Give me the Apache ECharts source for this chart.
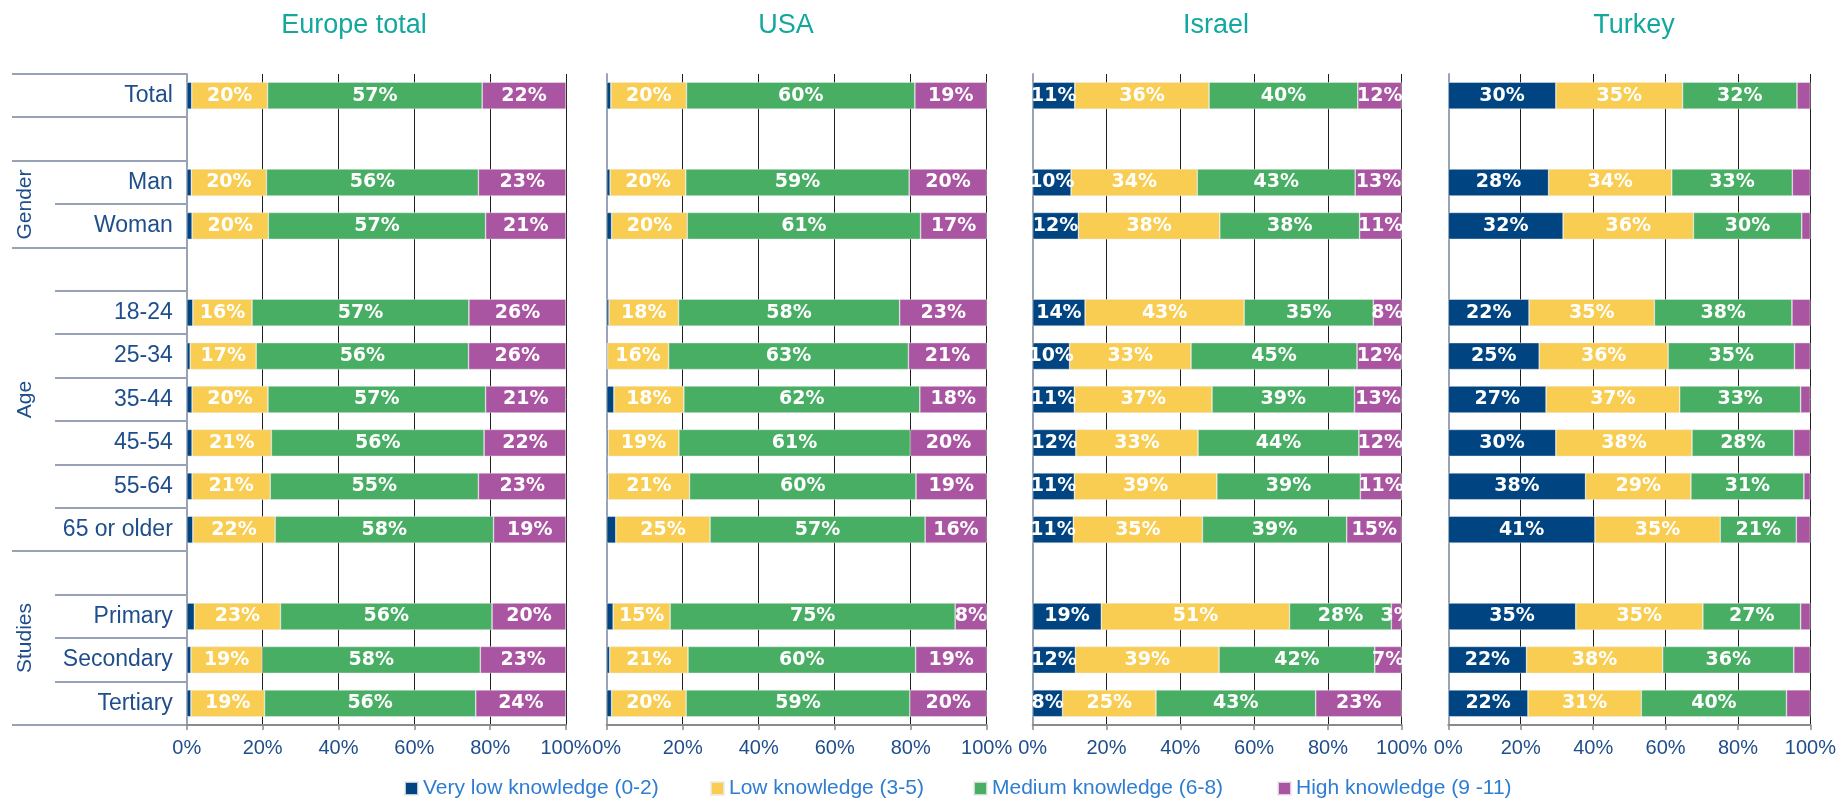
<!DOCTYPE html>
<html><head><meta charset="utf-8">
<script src="https://cdn.jsdelivr.net/npm/echarts@6/dist/echarts.min.js"></script>
<style>html,body{margin:0;padding:0;background:#fff}#c{width:1839px;height:799px}</style>
</head><body><div id="c"></div><script>
// ---- data ----
const categories = ['Total', '', 'Man', 'Woman', ' ', '18-24', '25-34', '35-44', '45-54', '55-64', '65 or older', '  ', 'Primary', 'Secondary', 'Tertiary'];
const countries = ['Europe total', 'USA', 'Israel', 'Turkey'];
const levels = ['Very low knowledge (0-2)', 'Low knowledge (3-5)', 'Medium knowledge (6-8)', 'High knowledge (9 -11)'];
const xTicks = [0, 20, 40, 60, 80, 100];
const groups = ['Gender', 'Age', 'Studies'];

const europeVeryLow = [1.3, null, 1.2, 1.4, null, 1.6, 0.9, 1.4, 1.4, 1.4, 1.6, null, 2.0, 1.1, 1.1];
const europeLow     = [20.0, null, 19.8, 20.1, null, 15.6, 17.4, 20.0, 20.9, 20.6, 21.7, null, 22.7, 18.8, 19.4];
const europeMedium  = [56.6, null, 55.9, 57.3, null, 57.2, 56.0, 57.4, 56.1, 54.9, 57.6, null, 55.8, 57.5, 55.7];
const europeHigh    = [22.1, null, 23.1, 21.2, null, 25.6, 25.7, 21.2, 21.6, 23.1, 19.1, null, 19.5, 22.6, 23.8];

const usaVeryLow = [1.1, null, 0.9, 1.3, null, 0.6, 0.2, 1.9, 0.4, 0.4, 2.4, null, 1.7, 0.8, 1.3];
const usaLow     = [19.9, null, 19.9, 19.9, null, 18.3, 16.1, 18.4, 18.6, 21.4, 24.8, null, 15.0, 20.6, 19.6];
const usaMedium  = [60.1, null, 58.8, 61.4, null, 58.2, 63.1, 62.1, 60.9, 59.6, 56.6, null, 75.0, 59.9, 58.9];
const usaHigh    = [18.9, null, 20.4, 17.4, null, 22.9, 20.6, 17.6, 20.1, 18.6, 16.2, null, 8.3, 18.7, 20.2];

const israelVeryLow = [11.4, null, 10.4, 12.4, null, 14.2, 10.0, 11.3, 11.7, 11.3, 11.0, null, 18.6, 11.6, 8.1];
const israelLow     = [36.4, null, 34.2, 38.3, null, 43.1, 32.9, 37.3, 33.1, 38.6, 35.0, null, 51.0, 38.9, 25.3];
const israelMedium  = [40.3, null, 42.8, 37.9, null, 35.0, 45.0, 38.6, 43.6, 38.9, 39.1, null, 27.6, 42.2, 43.3];
const israelHigh    = [11.9, null, 12.6, 11.4, null, 7.7, 12.1, 12.8, 11.6, 11.2, 14.9, null, 2.8, 7.3, 23.3];

const turkeyVeryLow = [29.7, null, 27.7, 31.7, null, 22.3, 25.1, 27.0, 29.7, 37.9, 40.5, null, 35.2, 21.6, 22.0];
const turkeyLow     = [35.0, null, 34.0, 36.0, null, 34.6, 35.6, 36.9, 37.6, 29.1, 34.6, null, 35.1, 37.6, 31.3];
const turkeyMedium  = [31.6, null, 33.3, 29.9, null, 38.0, 34.9, 33.4, 28.1, 31.2, 21.0, null, 27.0, 36.2, 40.1];
const turkeyHigh    = [3.7, null, 5.0, 2.4, null, 5.1, 4.4, 2.7, 4.6, 1.8, 3.9, null, 2.7, 4.6, 6.6];

// ---- styles ----
const countryData = [
  [europeVeryLow, europeLow, europeMedium, europeHigh],
  [usaVeryLow, usaLow, usaMedium, usaHigh],
  [israelVeryLow, israelLow, israelMedium, israelHigh],
  [turkeyVeryLow, turkeyLow, turkeyMedium, turkeyHigh]
];
const showLabel = [
  [false, true, true, true],
  [false, true, true, true],
  [true, true, true, true],
  [true, true, true, false]
];
const colors = ['#004481', '#F8CD51', '#48AE64', '#AA55A1'];
const gridBoxes = [[186.8, 379.2], [606.7, 380], [1032.7, 369], [1448.3, 366]];
const titleCenters = [349, 781, 1211, 1629];
const legendLefts = [404, 710, 973, 1277];
const navyText = '#1f4e8c';
const FONT = 'Liberation Sans, Arial, sans-serif';

const grids = [], xAxes = [], yAxes = [], series = [], titles = [], legends = [];
countries.forEach((c, i) => {
  grids.push({left: gridBoxes[i][0], width: gridBoxes[i][1], top: 74, height: 651, containLabel: false});
  titles.push({text: c, left: titleCenters[i], top: 7, textAlign: 'center',
    textStyle: {color: '#13a89e', fontSize: 27, fontWeight: 'normal', fontFamily: FONT}});
  xAxes.push({type: 'value', gridIndex: i, min: 0, max: 100, interval: 20,
    axisLine: {show: true, lineStyle: {color: '#8a8a8a', width: 2}},
    axisTick: {show: true, length: 5, lineStyle: {color: '#8a8a8a', width: 1.5}},
    axisLabel: {formatter: v => v + '%', color: navyText, fontSize: 20, fontFamily: FONT, margin: 13,
      customValues: xTicks},
    splitLine: {show: true, lineStyle: {color: '#1e1e1e', width: 1}}});
  yAxes.push({type: 'category', gridIndex: i, data: categories, inverse: true,
    axisLine: {show: true, lineStyle: {color: '#9aa3b5', width: 2}},
    axisTick: {show: false},
    axisLabel: {show: i === 0, color: navyText, fontSize: 23, fontFamily: FONT, margin: 14},
    splitLine: {show: false}});
  countryData[i].forEach((arr, j) => {
    series.push({type: 'bar', name: levels[j], stack: 'c' + i, xAxisIndex: i, yAxisIndex: i,
      data: arr, barCategoryGap: '38%',
      itemStyle: {color: colors[j], borderColor: 'rgba(235,235,235,0.8)', borderWidth: 0.6},
      label: {show: showLabel[i][j], position: 'inside', color: '#fff', fontWeight: 'bold',
        fontSize: 19, fontFamily: 'DejaVu Sans, Open Sans, sans-serif',
        formatter: p => (p.value == null ? '' : Math.round(p.value) + '%')},
      emphasis: {disabled: true}, animation: false});
  });
});
levels.forEach((l, j) => {
  legends.push({data: [l], left: legendLefts[j], top: 778, padding: 0, icon: 'rect',
    itemWidth: 13, itemHeight: 13, selectedMode: false,
    textStyle: {color: '#2e7dd1', fontSize: 21, fontFamily: FONT, padding: [0, 0, 0, 0]}});
});

const chart = echarts.init(document.getElementById('c'));
chart.setOption({animation: false, title: titles, legend: legends, grid: grids,
  xAxis: xAxes, yAxis: yAxes, series: series});

// ---- label table (lines + group labels), positioned via the axes ----
const p0 = chart.convertToPixel({gridIndex: 0}, [0, 0]);
const p1 = chart.convertToPixel({gridIndex: 0}, [0, 1]);
const step = p1[1] - p0[1];
const axisX = p0[0];
const boundaryY = b => Math.round(p0[1] + (b - 0.5) * step);
const groupBounds = [0, 1, 2, 4, 11, 15];
const graphics = [];
for (let b = 0; b <= categories.length; b++) {
  const full = groupBounds.indexOf(b) >= 0;
  const y = boundaryY(b);
  graphics.push({type: 'line', shape: {x1: full ? 12 : 55, y1: y, x2: axisX, y2: y},
    style: {stroke: '#98a2b6', lineWidth: 2}, silent: true});
}
const groupSpans = [[2, 4], [4, 11], [11, 15]];
groups.forEach((g, k) => {
  const yMid = (boundaryY(groupSpans[k][0]) + boundaryY(groupSpans[k][1])) / 2;
  graphics.push({type: 'text', x: 25, y: yMid, rotation: Math.PI / 2, silent: true,
    style: {text: g, fill: navyText, fontSize: 21, fontFamily: FONT, align: 'center', verticalAlign: 'middle'}});
});
chart.setOption({graphic: graphics});
</script></body></html>
